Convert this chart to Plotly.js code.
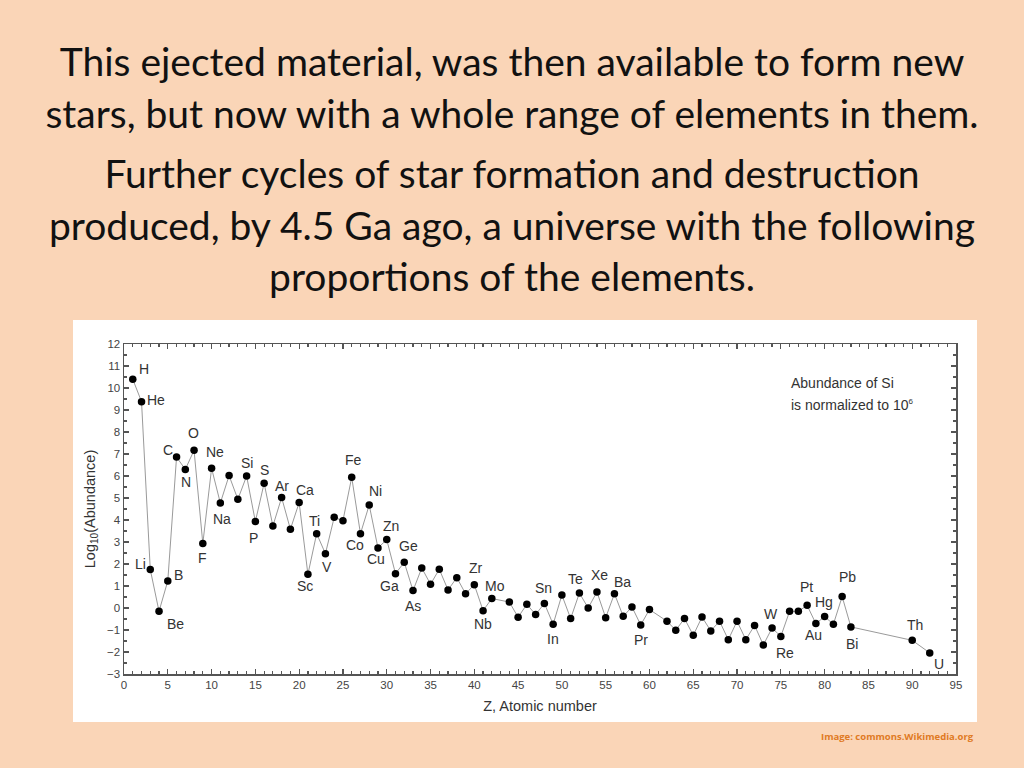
<!DOCTYPE html>
<html>
<head>
<meta charset="utf-8">
<script src="https://cdn.plot.ly/plotly-3.0.1.min.js"></script>
<style>
  body { margin: 0; width: 1024px; height: 768px; background: #FAD5B7; overflow: hidden; position: relative; font-family: Lato, 'Open Sans', sans-serif; }
  .line { position: absolute; left: 0; width: 1024px; text-align: center; font-size: 39px; color: #111; white-space: nowrap; line-height: 52px; }
  #chart { position: absolute; left: 73px; top: 320px; width: 904px; height: 402px; background: #fff; }
  #note { position: absolute; left: 791px; top: 372px; font-size: 14px; line-height: 22px; color: #333; font-family: 'Liberation Sans', Arial, sans-serif; }
  #note sup { font-size: 8px; vertical-align: 6px; line-height: 0; }
  #credit { position: absolute; left: 821px; top: 730px; font-size: 9.5px; font-weight: bold; color: #E07A24; font-family: 'Open Sans', sans-serif; }
</style>
</head>
<body>
<div class="line" style="top:35px">This ejected material, was then available to form new</div>
<div class="line" style="top:87px">stars, but now with a whole range of elements in them.</div>
<div class="line" style="top:147px">Further cycles of star formation and destruction</div>
<div class="line" style="top:199px">produced, by 4.5 Ga ago, a universe with the following</div>
<div class="line" style="top:250px">proportions of the elements.</div>
<div id="chart"></div>
<div id="note">Abundance of Si<br>is normalized to 10<sup>6</sup></div>
<div id="credit">Image: commons.Wikimedia.org</div>
<script>
// atomic number, element symbol, log10 abundance (Si = 10^6)
const atomicNumber = [1, 2, 3, 4, 5, 6, 7, 8, 9, 10, 11, 12, 13, 14, 15, 16, 17, 18, 19, 20,
  21, 22, 23, 24, 25, 26, 27, 28, 29, 30, 31, 32, 33, 34, 35, 36, 37, 38, 39, 40,
  41, 42, 44, 45, 46, 47, 48, 49, 50, 51, 52, 53, 54, 55, 56, 57, 58, 59, 60,
  62, 63, 64, 65, 66, 67, 68, 69, 70, 71, 72, 73, 74, 75, 76, 77, 78, 79, 80,
  81, 82, 83, 90, 92];
const symbols = ['H', 'He', 'Li', 'Be', 'B', 'C', 'N', 'O', 'F', 'Ne', 'Na', 'Mg', 'Al', 'Si', 'P', 'S', 'Cl', 'Ar', 'K', 'Ca',
  'Sc', 'Ti', 'V', 'Cr', 'Mn', 'Fe', 'Co', 'Ni', 'Cu', 'Zn', 'Ga', 'Ge', 'As', 'Se', 'Br', 'Kr', 'Rb', 'Sr', 'Y', 'Zr',
  'Nb', 'Mo', 'Ru', 'Rh', 'Pd', 'Ag', 'Cd', 'In', 'Sn', 'Sb', 'Te', 'I', 'Xe', 'Cs', 'Ba', 'La', 'Ce', 'Pr', 'Nd',
  'Sm', 'Eu', 'Gd', 'Tb', 'Dy', 'Ho', 'Er', 'Tm', 'Yb', 'Lu', 'Hf', 'Ta', 'W', 'Re', 'Os', 'Ir', 'Pt', 'Au', 'Hg',
  'Tl', 'Pb', 'Bi', 'Th', 'U'];
const logAbundance = [10.40, 9.38, 1.75, -0.15, 1.23, 6.86, 6.30, 7.17, 2.93, 6.35, 4.77, 6.02, 4.94, 6.00, 3.93, 5.67, 3.73, 5.02, 3.58, 4.79,
  1.53, 3.38, 2.47, 4.12, 3.97, 5.94, 3.38, 4.68, 2.73, 3.11, 1.56, 2.08, 0.79, 1.82, 1.08, 1.76, 0.82, 1.38, 0.65, 1.06,
  -0.12, 0.43, 0.27, -0.42, 0.17, -0.30, 0.21, -0.74, 0.59, -0.48, 0.68, 0.00, 0.73, -0.44, 0.65, -0.38, 0.05, -0.77, -0.07,
  -0.60, -1.01, -0.48, -1.24, -0.41, -1.04, -0.60, -1.44, -0.60, -1.44, -0.79, -1.68, -0.91, -1.29, -0.15, -0.15, 0.12, -0.71, -0.39,
  -0.74, 0.52, -0.86, -1.47, -2.04];

// which elements get a text label, and where the label sits relative to the dot (px, dy down)
const labelOffsets = {
  H: [11, -10], He: [14, -2], Li: [-10, -6], Be: [16, 13], B: [11, -6], C: [-9, -7], N: [1, 13],
  O: [-1, -17], F: [0, 14], Ne: [3, -16], Na: [2, 16], Si: [0, -13], S: [0, -13], P: [-2, 16],
  Ar: [0, -12], Ca: [6, -13], Ti: [-2, -13], Sc: [-3, 12], V: [2, 13], Fe: [2, -17], Co: [-5, 11],
  Ni: [6, -14], Cu: [-2, 11], Zn: [4, -14], Ga: [-6, 12], Ge: [4, -16], As: [0, 15], Zr: [2, -17],
  Nb: [0, 13], Mo: [3, -13], Sn: [-18, -7], In: [0, 15], Te: [-4, -14], Xe: [3, -17], Ba: [8, -12],
  Pr: [0, 15], W: [-1, -14], Re: [4, 17], Pt: [-1, -18], Au: [-2, 11], Hg: [-1, -15], Pb: [5, -20],
  Bi: [1, 17], Th: [3, -15], U: [9, 11]
};

const labelAnnotations = [];
symbols.forEach(function (s, i) {
  if (labelOffsets[s]) {
    labelAnnotations.push({
      x: atomicNumber[i], y: logAbundance[i], text: s, showarrow: false,
      xshift: labelOffsets[s][0], yshift: -labelOffsets[s][1],
      font: { size: 14, color: '#333' }
    });
  }
});

const axisCommon = {
  showline: true, mirror: 'ticks', linecolor: '#555', linewidth: 1.5,
  ticks: 'inside', ticklen: 5, tickcolor: '#555', tickwidth: 1.2,
  showgrid: false, zeroline: false,
  tickfont: { size: 11.5, color: '#444' }
};

Plotly.newPlot('chart', [
  {
    x: atomicNumber,
    y: logAbundance,
    mode: 'lines+markers',
    type: 'scatter',
    line: { color: '#9a9a9a', width: 1 },
    marker: { color: '#000', size: 7.5 },
    hoverinfo: 'x+y'
  }
], {
  width: 904, height: 402,
  margin: { l: 51, r: 21, t: 24, b: 48 },
  paper_bgcolor: '#fff', plot_bgcolor: '#fff',
  showlegend: false,
  font: { family: 'Liberation Sans, Arial, sans-serif' },
  xaxis: Object.assign({}, axisCommon, {
    range: [0, 95], dtick: 5, tick0: 0,
    minor: { dtick: 1, ticks: 'inside', ticklen: 3, tickcolor: '#555' },
    title: { text: 'Z, Atomic number', font: { size: 14.5, color: '#333' }, standoff: 10 }
  }),
  yaxis: Object.assign({}, axisCommon, {
    range: [-3, 12], dtick: 1, tick0: 0,
    minor: { dtick: 0.5, ticks: 'inside', ticklen: 3, tickcolor: '#555' },
    title: { text: 'Log<sub>10</sub>(Abundance)', font: { size: 14.5, color: '#333' }, standoff: 8 }
  }),
  annotations: labelAnnotations
}, { displayModeBar: false, staticPlot: true });
</script>
</body>
</html>
